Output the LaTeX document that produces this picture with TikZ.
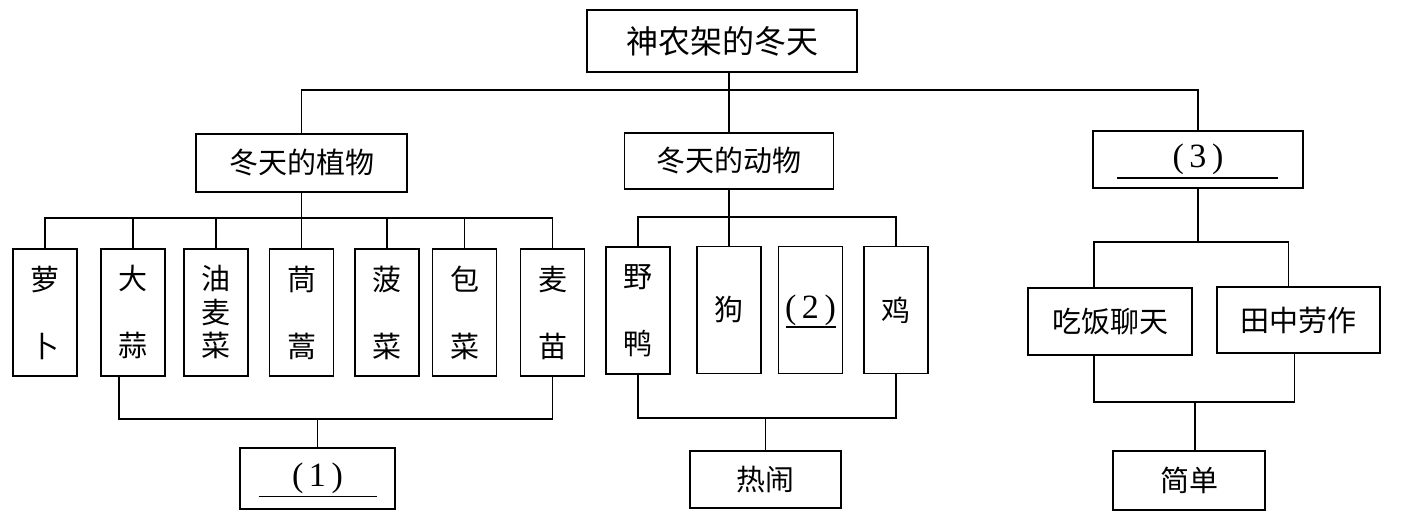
\documentclass[tikz,border=0pt]{standalone}
\usepackage{fontspec}
\setmainfont{Liberation Serif}
\newfontfamily\cjk{Noto Sans CJK SC}
\usetikzlibrary{positioning}
\tikzset{
  link/.style={line width=0.75pt},
  box/.style={draw, line width=0.75pt, inner sep=0pt, align=center,
    font=\cjk\fontsize{14.5}{16.75}\selectfont},
  vbox/.style={box, minimum width=32pt, minimum height=63.5pt},
  blank/.style={font=\fontsize{17}{19}\selectfont},
}

\begin{document}
\begin{tikzpicture}[x=0.5pt,y=-0.5pt]
    \useasboundingbox (0,0) rectangle (1407,518);
    \node[box, minimum width=135pt, minimum height=31pt, font=\cjk\fontsize{16}{19}\selectfont] (root) at (722,41) {神农架的冬天};
    \node[box, minimum width=105.5pt, minimum height=29pt] (plants) at (301.5,163) {冬天的植物};
    \node[box, minimum width=104.5pt, minimum height=28pt] (animals) at (729,161) {冬天的动物};
    \node[box, blank, minimum width=105pt, minimum height=28.5pt] (q3) at (1198,159.5) {(\,3\,)};
    \foreach \n/\x/\t in {luobo/45/{萝\\[16.75pt]卜}, dasuan/133/{大\\[16.75pt]蒜},
        youmaicai/216/{油\\麦\\菜}, tonghao/301.5/{茼\\[16.75pt]蒿}, bocai/387/{菠\\[16.75pt]菜},
        baocai/464.5/{包\\[16.75pt]菜}, maimiao/552.5/{麦\\[16.75pt]苗}}
        \node[vbox] (\n) at (\x,312.5) {\t};
    \node[vbox] (yeya) at (638,310.5) {野\\[16.75pt]鸭};
    \node[vbox] (gou) at (729,310) {狗};
    \node[vbox, blank] (q2) at (810.5,310) {\raisebox{2pt}{(\,2\,)}};
    \node[vbox] (ji) at (896,310) {鸡};
    \node[box, blank, minimum width=77.5pt, minimum height=30.5pt] (q1) at (317.5,478.5) {(\,1\,)};
    \node[box, minimum width=75.5pt, minimum height=28.5pt] (renao) at (765.5,479.5) {热闹};
    \node[box, minimum width=82pt, minimum height=33.5pt] (chifan) at (1110,321.5) {吃饭聊天};
    \node[box, minimum width=81.5pt, minimum height=33pt] (tianzhong) at (1298.5,320) {田中劳作};
    \node[box, minimum width=76pt, minimum height=29.5pt] (jiandan) at (1189,480.5) {简单};

    \draw[link] ([xshift=-29.5pt,yshift=-9pt]q1.center) -- ++(118,0);
    \draw[link] ([xshift=-12.5pt,yshift=-8.5pt]q2.center) -- ++(50,0);
    \draw[link] ([xshift=-40.5pt,yshift=-9.25pt]q3.center) -- ++(161,0);

    \draw[link] (animals.north |- root.south) -- (animals.north);
    \draw[link] (plants.north) -- (plants.north |- 0,90) -- (q3.north |- 0,90) -- (q3.north);

    \draw[link] (plants.south) -- (plants.south |- 0,218);
    \draw[link] (luobo.north) -- (luobo.north |- 0,218) -- (maimiao.north |- 0,218) -- (maimiao.north);
    \foreach \n in {dasuan,youmaicai,tonghao,bocai,baocai}
        \draw[link] (\n.north) -- (\n.north |- 0,218);
    \coordinate (ds) at ([xshift=-7pt]dasuan.south);
    \draw[link] (ds) |- (maimiao.south |- 0,419) -- (maimiao.south);
    \draw[link] (q1.north) -- (q1.north |- 0,419);

    \draw[link] (animals.south) -- (gou.north);
    \draw[link] (yeya.north) |- (ji.north |- 0,217) -- (ji.north);
    \draw[link] (yeya.south) |- (ji.south |- 0,418) -- (ji.south);
    \draw[link] (renao.north) -- (renao.north |- 0,418);

    \coordinate (cf) at ([xshift=-8pt]chifan.north);
    \coordinate (tz) at ([xshift=-5pt]tianzhong.north);
    \coordinate (cfb) at ([xshift=-8pt]chifan.south);
    \coordinate (tzb) at ([xshift=-2pt]tianzhong.south);
    \coordinate (jd) at ([xshift=3pt]jiandan.north);
    \draw[link] (q3.south) -- (q3.south |- 0,242);
    \draw[link] (cf) |- (tz |- 0,242) -- (tz);
    \draw[link] (cfb) |- (tzb |- 0,402) -- (tzb);
    \draw[link] (jd) -- (jd |- 0,402);
\end{tikzpicture}
\end{document}
